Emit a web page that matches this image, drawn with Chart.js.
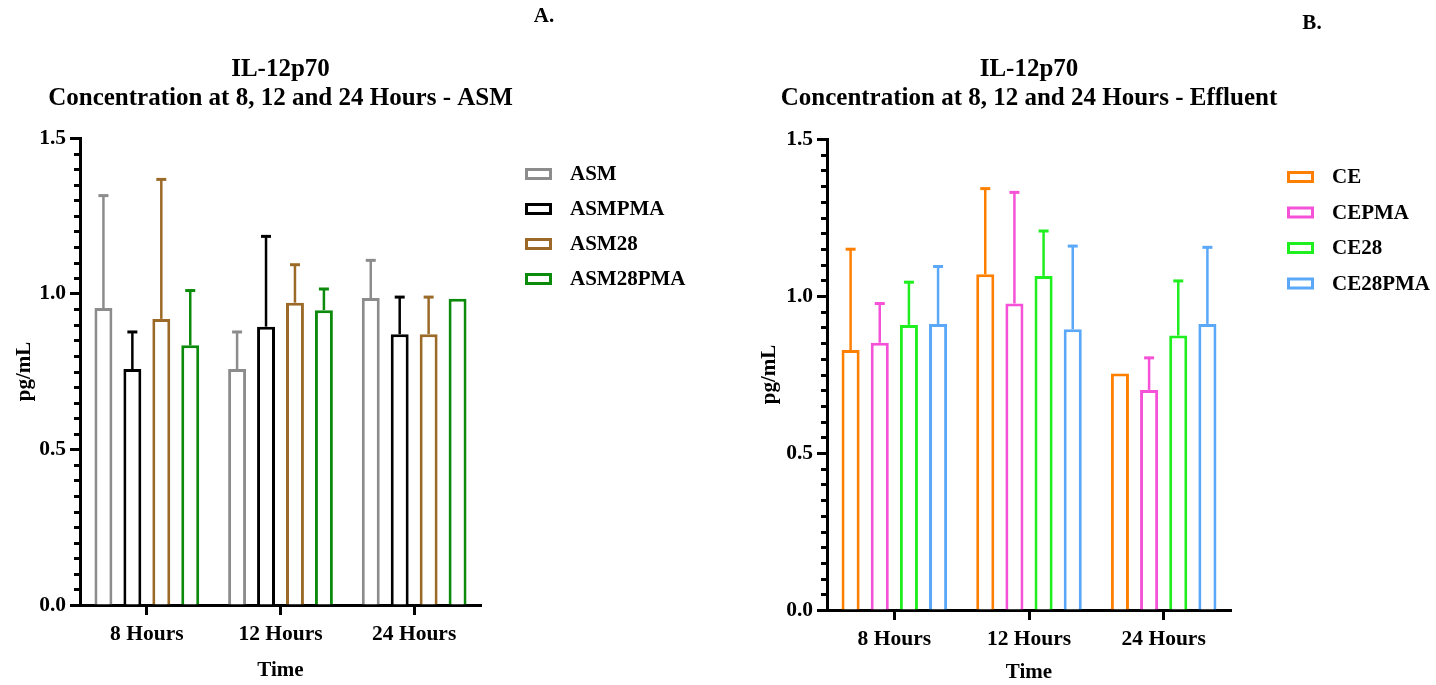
<!DOCTYPE html>
<html>
<head>
<meta charset="utf-8">
<script src="https://cdn.jsdelivr.net/npm/chart.js@4.4.1/dist/chart.umd.min.js"></script>
<style>
  html, body { margin: 0; padding: 0; background: #ffffff; }
  #wrap { position: relative; width: 1436px; height: 685px; overflow: hidden; }
  #wrap canvas { position: absolute; top: 0; }
  #panelA { left: 0; }
  #panelB { left: 718px; }
</style>
</head>
<body>
<div id="wrap">
  <canvas id="panelA" width="718" height="685"></canvas>
  <canvas id="panelB" width="718" height="685"></canvas>
</div>
<script>
// Time points shared by both panels
const categories = ['8 Hours', '12 Hours', '24 Hours'];
const yTicks = [0, 0.5, 1.0, 1.5];

// Panel A: IL-12p70 (pg/mL), mean and upper SD
const asm        = [0.954, 0.758, 0.986];
const asmSd      = [0.361, 0.119, 0.121];
const asmPma     = [0.758, 0.894, 0.870];
const asmPmaSd   = [0.119, 0.290, 0.119];
const asm28      = [0.919, 0.971, 0.870];
const asm28Sd    = [0.448, 0.122, 0.119];
const asm28Pma   = [0.834, 0.947, 0.984];
const asm28PmaSd = [0.176, 0.068, 0];

// Panel B: IL-12p70 (pg/mL), mean and upper SD
const ce         = [0.828, 1.069, 0.753];
const ceSd       = [0.321, 0.273, 0];
const cePma      = [0.851, 0.976, 0.701];
const cePmaSd    = [0.125, 0.354, 0.102];
const ce28       = [0.908, 1.064, 0.874];
const ce28Sd     = [0.136, 0.143, 0.174];
const ce28Pma    = [0.911, 0.894, 0.911];
const ce28PmaSd  = [0.183, 0.265, 0.244];

const FAMILY = "'Liberation Serif', 'Times New Roman', serif";

// Upward error bars from each bar top to mean + SD
const errorBars = {
  id: 'errorBars',
  afterDatasetsDraw(chart) {
    const ctx = chart.ctx;
    const y = chart.scales.y;
    chart.data.datasets.forEach((ds, di) => {
      const meta = chart.getDatasetMeta(di);
      if (!ds.errorUp) return;
      meta.data.forEach((bar, i) => {
        const sd = ds.errorUp[i];
        if (!sd) return;
        const top = y.getPixelForValue(ds.data[i] + sd);
        ctx.save();
        ctx.strokeStyle = ds.borderColor;
        ctx.lineWidth = 2.5;
        ctx.beginPath();
        ctx.moveTo(bar.x, bar.y);
        ctx.lineTo(bar.x, top);
        ctx.stroke();
        ctx.lineWidth = 3;
        ctx.beginPath();
        ctx.moveTo(bar.x - 5, top);
        ctx.lineTo(bar.x + 5, top);
        ctx.stroke();
        ctx.restore();
      });
    });
  }
};

// Short minor ticks on the value axis every 0.05
const minorTicks = {
  id: 'minorTicks',
  afterDraw(chart) {
    const ctx = chart.ctx;
    const y = chart.scales.y;
    const x0 = chart.chartArea.left;
    ctx.save();
    ctx.strokeStyle = '#000';
    ctx.lineWidth = 3;
    for (let k = 1; k < 30; k++) {
      if (k % 10 === 0) continue;
      const py = Math.round(y.getPixelForValue(k * 0.05)) + 0.5;
      ctx.beginPath();
      ctx.moveTo(x0 - 6, py);
      ctx.lineTo(x0, py);
      ctx.stroke();
    }
    ctx.restore();
  }
};

// Two-line heading centred over the plot area
const heading = {
  id: 'heading',
  afterDraw(chart, args, opts) {
    const ctx = chart.ctx;
    const cx = (chart.chartArea.left + chart.chartArea.right) / 2;
    ctx.save();
    ctx.font = 'bold 25px ' + FAMILY;
    ctx.fillStyle = '#000';
    ctx.textAlign = 'center';
    ctx.textBaseline = 'middle';
    opts.lines.forEach((t, i) => ctx.fillText(t, cx, opts.y + i * opts.gap));
    ctx.restore();
  }
};

// Legend at the right side of each panel
const sideLegend = {
  id: 'sideLegend',
  afterDraw(chart, args, opts) {
    const ctx = chart.ctx;
    ctx.save();
    ctx.font = 'bold 21px ' + FAMILY;
    ctx.textBaseline = 'middle';
    ctx.textAlign = 'left';
    chart.data.datasets.forEach((ds, i) => {
      const cy = opts.y + i * opts.gap;
      ctx.fillStyle = '#fff';
      ctx.fillRect(opts.x, cy - 4.5, 24, 9);
      ctx.strokeStyle = ds.borderColor;
      ctx.lineWidth = 3;
      ctx.strokeRect(opts.x, cy - 4.5, 24, 9);
      ctx.fillStyle = '#000';
      ctx.fillText(ds.label, opts.textX, cy + 1);
    });
    ctx.restore();
  }
};

// Panel letter in the upper right
const panelTag = {
  id: 'panelTag',
  afterDraw(chart, args, opts) {
    const ctx = chart.ctx;
    ctx.save();
    ctx.font = 'bold 21px ' + FAMILY;
    ctx.fillStyle = '#000';
    ctx.textAlign = 'center';
    ctx.textBaseline = 'middle';
    ctx.fillText(opts.text, opts.x, opts.y);
    ctx.restore();
  }
};

function barSet(label, color, data, sd) {
  return {
    label: label,
    data: data,
    errorUp: sd,
    backgroundColor: '#ffffff',
    borderColor: color,
    borderWidth: 3,
    borderSkipped: 'start',
    categoryPercentage: 0.866,
    barPercentage: 0.62
  };
}

function makeChart(id, cfg) {
  return new Chart(document.getElementById(id), {
    type: 'bar',
    data: { labels: categories, datasets: cfg.datasets },
    plugins: [errorBars, minorTicks, heading, sideLegend, panelTag],
    options: {
      responsive: false,
      animation: false,
      devicePixelRatio: 1,
      layout: { padding: { left: 0, right: cfg.padRight, top: cfg.padTop, bottom: 0 } },
      plugins: {
        legend: { display: false },
        tooltip: { enabled: false },
        title: { display: false },
        heading: { lines: cfg.title, y: 69.5, gap: 29 },
        sideLegend: cfg.legend,
        panelTag: cfg.tag
      },
      scales: {
        x: {
          type: 'category',
          offset: true,
          afterFit(scale) { scale.height = cfg.xHeight; },
          grid: {
            display: true, drawOnChartArea: false, offset: false,
            drawTicks: true, tickLength: 10, tickWidth: 3, tickColor: '#000'
          },
          border: { display: true, color: '#000', width: 3 },
          ticks: {
            color: '#000', padding: 7, maxRotation: 0,
            font: { family: FAMILY, size: 21.5, weight: 'bold' }
          },
          title: {
            display: true, text: 'Time', color: '#000',
            font: { family: FAMILY, size: 21, weight: 'bold', lineHeight: 1.2 },
            padding: { top: 0, bottom: cfg.timePad }
          }
        },
        y: {
          min: 0, max: 1.5,
          afterFit(scale) { scale.width = cfg.yWidth; },
          afterBuildTicks(scale) { scale.ticks = yTicks.map(v => ({ value: v })); },
          grid: {
            display: true, drawOnChartArea: false,
            drawTicks: true, tickLength: 10, tickWidth: 3, tickColor: '#000'
          },
          border: { display: true, color: '#000', width: 3 },
          ticks: {
            color: '#000', padding: 4,
            callback: v => Number(v).toFixed(1),
            font: { family: FAMILY, size: 21.5, weight: 'bold' }
          },
          title: {
            display: true, text: 'pg/mL', color: '#000',
            font: { family: FAMILY, size: 21, weight: 'bold', lineHeight: 1.2 },
            padding: { top: cfg.yTitlePad, bottom: 0 }
          }
        }
      }
    }
  });
}

makeChart('panelA', {
  title: ['IL-12p70', 'Concentration at 8, 12 and 24 Hours - ASM'],
  padTop: 138,
  padRight: 237,
  xHeight: 80,
  yWidth: 80,
  yTitlePad: 12.4,
  timePad: 1.4,
  legend: { x: 526.5, textX: 570, y: 174, gap: 35 },
  tag: { text: 'A.', x: 544, y: 17 },
  datasets: [
    barSet('ASM', '#8c8c8c', asm, asmSd),
    barSet('ASMPMA', '#000000', asmPma, asmPmaSd),
    barSet('ASM28', '#9c6a28', asm28, asm28Sd),
    barSet('ASM28PMA', '#0b8a0b', asm28Pma, asm28PmaSd)
  ]
});

makeChart('panelB', {
  title: ['IL-12p70', 'Concentration at 8, 12 and 24 Hours - Effluent'],
  padTop: 139,
  padRight: 205,
  xHeight: 75,
  yWidth: 109,
  yTitlePad: 39.4,
  timePad: 0,
  legend: { x: 570.5, textX: 614, y: 177, gap: 35.5 },
  tag: { text: 'B.', x: 594, y: 24 },
  datasets: [
    barSet('CE', '#ff8000', ce, ceSd),
    barSet('CEPMA', '#f552d8', cePma, cePmaSd),
    barSet('CE28', '#1fee1f', ce28, ce28Sd),
    barSet('CE28PMA', '#5aa8f7', ce28Pma, ce28PmaSd)
  ]
});
</script>
</body>
</html>
